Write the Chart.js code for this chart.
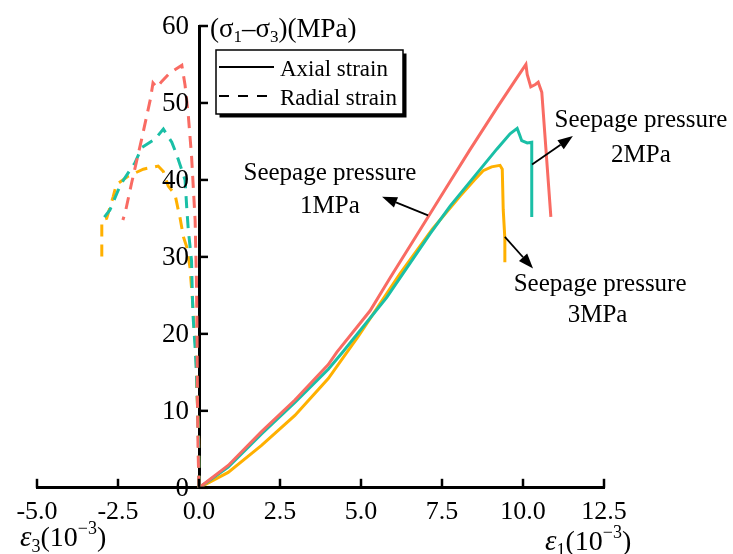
<!DOCTYPE html>
<html><head><meta charset="utf-8">
<script src="https://cdn.jsdelivr.net/npm/chart.js@4.4.0/dist/chart.umd.min.js"></script>
<style>html,body{margin:0;padding:0;background:#fff;}#wrap{width:733px;height:554px;}</style>
</head><body><div id="wrap"><canvas id="c" width="733" height="554"></canvas></div>
<script>
// ---- data (strain in 1e-3, deviatoric stress in MPa) ----
const xTickStep = 2.5;
const yTickStep = 10;
const seriesNames = ['1MPa', '2MPa', '3MPa'];
const seriesColors = ['#F96B63', '#1ABFA6', '#FFB000'];

const axial1MPa = [[0,0],[0.9,2.9],[1.93,7.3],[2.96,11.4],[3.99,16.0],[4.25,17.6],[5.28,23.0],[5.9,27.3],[6.82,33.5],[7.75,39.8],[8.36,43.9],[9.2,49.4],[9.8,53.2],[10.09,55.0],[10.13,53.7],[10.24,52.1],[10.38,52.4],[10.47,52.7],[10.58,51.4],[10.86,35.2]];
const axial2MPa = [[0,0],[0.9,2.7],[1.93,7.0],[2.96,11.1],[3.99,15.4],[4.45,17.7],[5.79,24.7],[7.13,33.0],[7.75,36.6],[9.19,44.0],[9.6,46.0],[9.82,46.7],[9.9,45.8],[9.96,45.1],[10.13,44.8],[10.27,44.9],[10.27,35.2]];
const axial3MPa = [[0,0],[0.9,2.0],[1.93,5.5],[2.96,9.4],[3.99,14.2],[4.92,19.7],[6.2,27.8],[7.2,33.6],[8.06,37.9],[8.5,40.0],[8.77,41.2],[9.03,41.7],[9.29,41.9],[9.36,41.4],[9.39,36.1],[9.44,32.4],[9.44,29.3]];

const radial1MPa = [[0,0],[-0.03,5],[-0.05,12],[-0.06,20],[-0.08,27],[-0.12,34.8],[-0.23,43.1],[-0.33,48.4],[-0.43,52.3],[-0.53,54.9],[-0.9,53.9],[-1.15,52.8],[-1.3,52.0],[-1.42,52.6],[-1.5,50.5],[-1.77,45.3],[-2.08,39.6],[-2.28,35.7],[-2.35,34.8]];
const radial2MPa = [[0,0],[-0.01,5],[-0.04,9.8],[-0.08,15],[-0.12,18.2],[-0.18,22.1],[-0.2,24.3],[-0.23,29.5],[-0.33,33.5],[-0.38,36.5],[-0.43,40.0],[-0.69,43.3],[-0.84,44.9],[-1.1,46.6],[-1.36,45.3],[-1.77,44.2],[-1.98,42.2],[-2.33,40.0],[-2.49,38.7],[-2.75,36.1],[-2.95,35.0]];
const radial3MPa = [[0,0],[-0.01,6.3],[-0.04,10],[-0.07,13.4],[-0.09,17.7],[-0.15,20.8],[-0.2,24.3],[-0.28,28.7],[-0.38,31.3],[-0.48,32.6],[-0.59,35.2],[-0.64,36.1],[-0.74,38.1],[-0.95,39.2],[-1.1,41.1],[-1.26,41.8],[-1.72,41.4],[-2.18,40.5],[-2.55,39.4],[-2.65,37.8],[-2.85,35.0],[-3.0,34.8],[-3.0,29.5]];

const axialSets = [axial1MPa, axial2MPa, axial3MPa];
const radialSets = [radial1MPa, radial2MPa, radial3MPa];

// annotation anchors in data units (text baselines, arrow tail/head)
const annotations = [
  {lines:['Seepage pressure','1MPa'], text:[[4.04,40.0],[4.04,35.7]], tail:[7.07,35.4], head:[5.65,37.8]},
  {lines:['Seepage pressure','2MPa'], text:[[13.64,46.9],[13.64,42.3]], tail:[10.28,42.0], head:[11.54,45.7]},
  {lines:['Seepage pressure','3MPa'], text:[[12.38,25.6],[12.3,21.5]], tail:[9.44,32.6], head:[10.31,28.5]}
];

const SERIF = '"Liberation Serif","Times New Roman",serif';
const toPts = arr => arr.map(([x,y]) => ({x, y}));

const datasets = [];
radialSets.forEach((d,i) => datasets.push({label:'Radial '+seriesNames[i], data:toPts(d), borderColor:seriesColors[i], borderWidth:3, borderDash:[12,8], showLine:true, pointRadius:0, tension:0, fill:false}));
axialSets.forEach((d,i) => datasets.push({label:'Axial '+seriesNames[i], data:toPts(d), borderColor:seriesColors[i], borderWidth:3, showLine:true, pointRadius:0, tension:0, fill:false}));

function runs(ctx, x, y, parts){
  let cx = x;
  parts.forEach(p => { ctx.font = p.f; ctx.fillText(p.t, cx, y + (p.dy||0)); cx += ctx.measureText(p.t).width; });
}
function arrow(ctx, x1, y1, x2, y2){
  const ang = Math.atan2(y2-y1, x2-x1), L = 15, W = 5.5;
  const bx = x2 - L*Math.cos(ang), by = y2 - L*Math.sin(ang);
  ctx.beginPath(); ctx.moveTo(x1,y1); ctx.lineTo(bx,by); ctx.lineWidth=1.8; ctx.stroke();
  ctx.beginPath(); ctx.moveTo(x2,y2);
  ctx.lineTo(bx + W*Math.sin(ang), by - W*Math.cos(ang));
  ctx.lineTo(bx - W*Math.sin(ang), by + W*Math.cos(ang));
  ctx.closePath(); ctx.fill();
}

const deco = {
  id:'deco',
  afterDraw(chart){
    const {ctx, chartArea:a} = chart;
    const xs = chart.scales.x, ys = chart.scales.y;
    const X = v => xs.getPixelForValue(v), Y = v => ys.getPixelForValue(v);
    ctx.save();
    ctx.strokeStyle = '#000'; ctx.fillStyle = '#000'; ctx.lineWidth = 2.5;
    // inward ticks
    xs.ticks.forEach(t => { const px = X(t.value); ctx.beginPath(); ctx.moveTo(px, a.bottom); ctx.lineTo(px, a.bottom-9); ctx.stroke(); });
    ys.ticks.forEach(t => { const py = Y(t.value); ctx.beginPath(); ctx.moveTo(X(0), py); ctx.lineTo(X(0)+9, py); ctx.stroke(); });
    // y tick labels, from the scale's own ticks
    ctx.font = '27px '+SERIF; ctx.textAlign = 'right'; ctx.textBaseline = 'middle';
    ys.ticks.forEach(t => ctx.fillText(String(t.label), X(0)-10, Y(t.value)+1));
    // y title
    ctx.textBaseline = 'alphabetic'; ctx.textAlign = 'left';
    const f = '27px '+SERIF, fs = '17px '+SERIF;
    runs(ctx, X(0)+11, a.top+11, [{t:'(σ',f},{t:'1',f:fs,dy:5},{t:'–σ',f},{t:'3',f:fs,dy:5},{t:')(MPa)',f}]);
    // x titles
    const fi = 'italic 29px '+SERIF, f26 = '28px '+SERIF, fsub = '18px '+SERIF;
    runs(ctx, 20, 546, [{t:'ε',f:fi},{t:'3',f:fsub,dy:6},{t:'(10',f:f26},{t:'−3',f:fsub,dy:-12},{t:')',f:f26}]);
    runs(ctx, 545, 550, [{t:'ε',f:fi},{t:'1',f:fsub,dy:6},{t:'(10',f:f26},{t:'−3',f:fsub,dy:-12},{t:')',f:f26}]);
    // legend
    const lx = X(0)+17, ly = a.top+24, lw = 187, lh = 64;
    ctx.fillRect(lx+3.5, ly+3.5, lw, lh);
    ctx.fillStyle = '#fff'; ctx.fillRect(lx, ly, lw, lh);
    ctx.lineWidth = 1.5; ctx.strokeRect(lx, ly, lw, lh);
    ctx.fillStyle = '#000'; ctx.lineWidth = 2.2;
    ctx.beginPath(); ctx.moveTo(lx+3, ly+17); ctx.lineTo(lx+58, ly+17); ctx.stroke();
    ctx.setLineDash([10,9]);
    ctx.beginPath(); ctx.moveTo(lx+3, ly+46); ctx.lineTo(lx+58, ly+46); ctx.stroke();
    ctx.setLineDash([]);
    ctx.font = '23px '+SERIF;
    ctx.fillText('Axial strain', lx+64, ly+26);
    ctx.fillText('Radial strain', lx+64, ly+55);
    // annotations
    ctx.textAlign = 'center'; ctx.font = '25px '+SERIF;
    annotations.forEach(an => {
      an.lines.forEach((s,i) => ctx.fillText(s, X(an.text[i][0]), Y(an.text[i][1])));
      arrow(ctx, X(an.tail[0]), Y(an.tail[1]), X(an.head[0]), Y(an.head[1]));
    });
    ctx.restore();
  }
};

new Chart(document.getElementById('c'), {
  type:'scatter',
  data:{datasets},
  options:{
    responsive:false, animation:false,
    layout:{padding:{left:37, right:129, top:26, bottom:17}},
    plugins:{legend:{display:false}, tooltip:{enabled:false}},
    scales:{
      x:{type:'linear', position:'bottom', min:-5, max:12.5,
         ticks:{stepSize:xTickStep, padding:9, color:'#000', font:{family:SERIF, size:26}, maxRotation:0, autoSkip:false, callback:v=>Number(v).toFixed(1)},
         grid:{display:true, drawOnChartArea:false, drawTicks:false, color:'rgba(0,0,0,0)'},
         border:{display:true, color:'#000', width:3}},
      y:{type:'linear', position:{x:0}, min:0, max:60,
         ticks:{display:false, stepSize:yTickStep, callback:v=>String(v)},
         grid:{display:true, drawOnChartArea:false, drawTicks:false, color:'rgba(0,0,0,0)'},
         border:{display:true, color:'#000', width:3}}
    }
  },
  plugins:[deco]
});
</script></body></html>
